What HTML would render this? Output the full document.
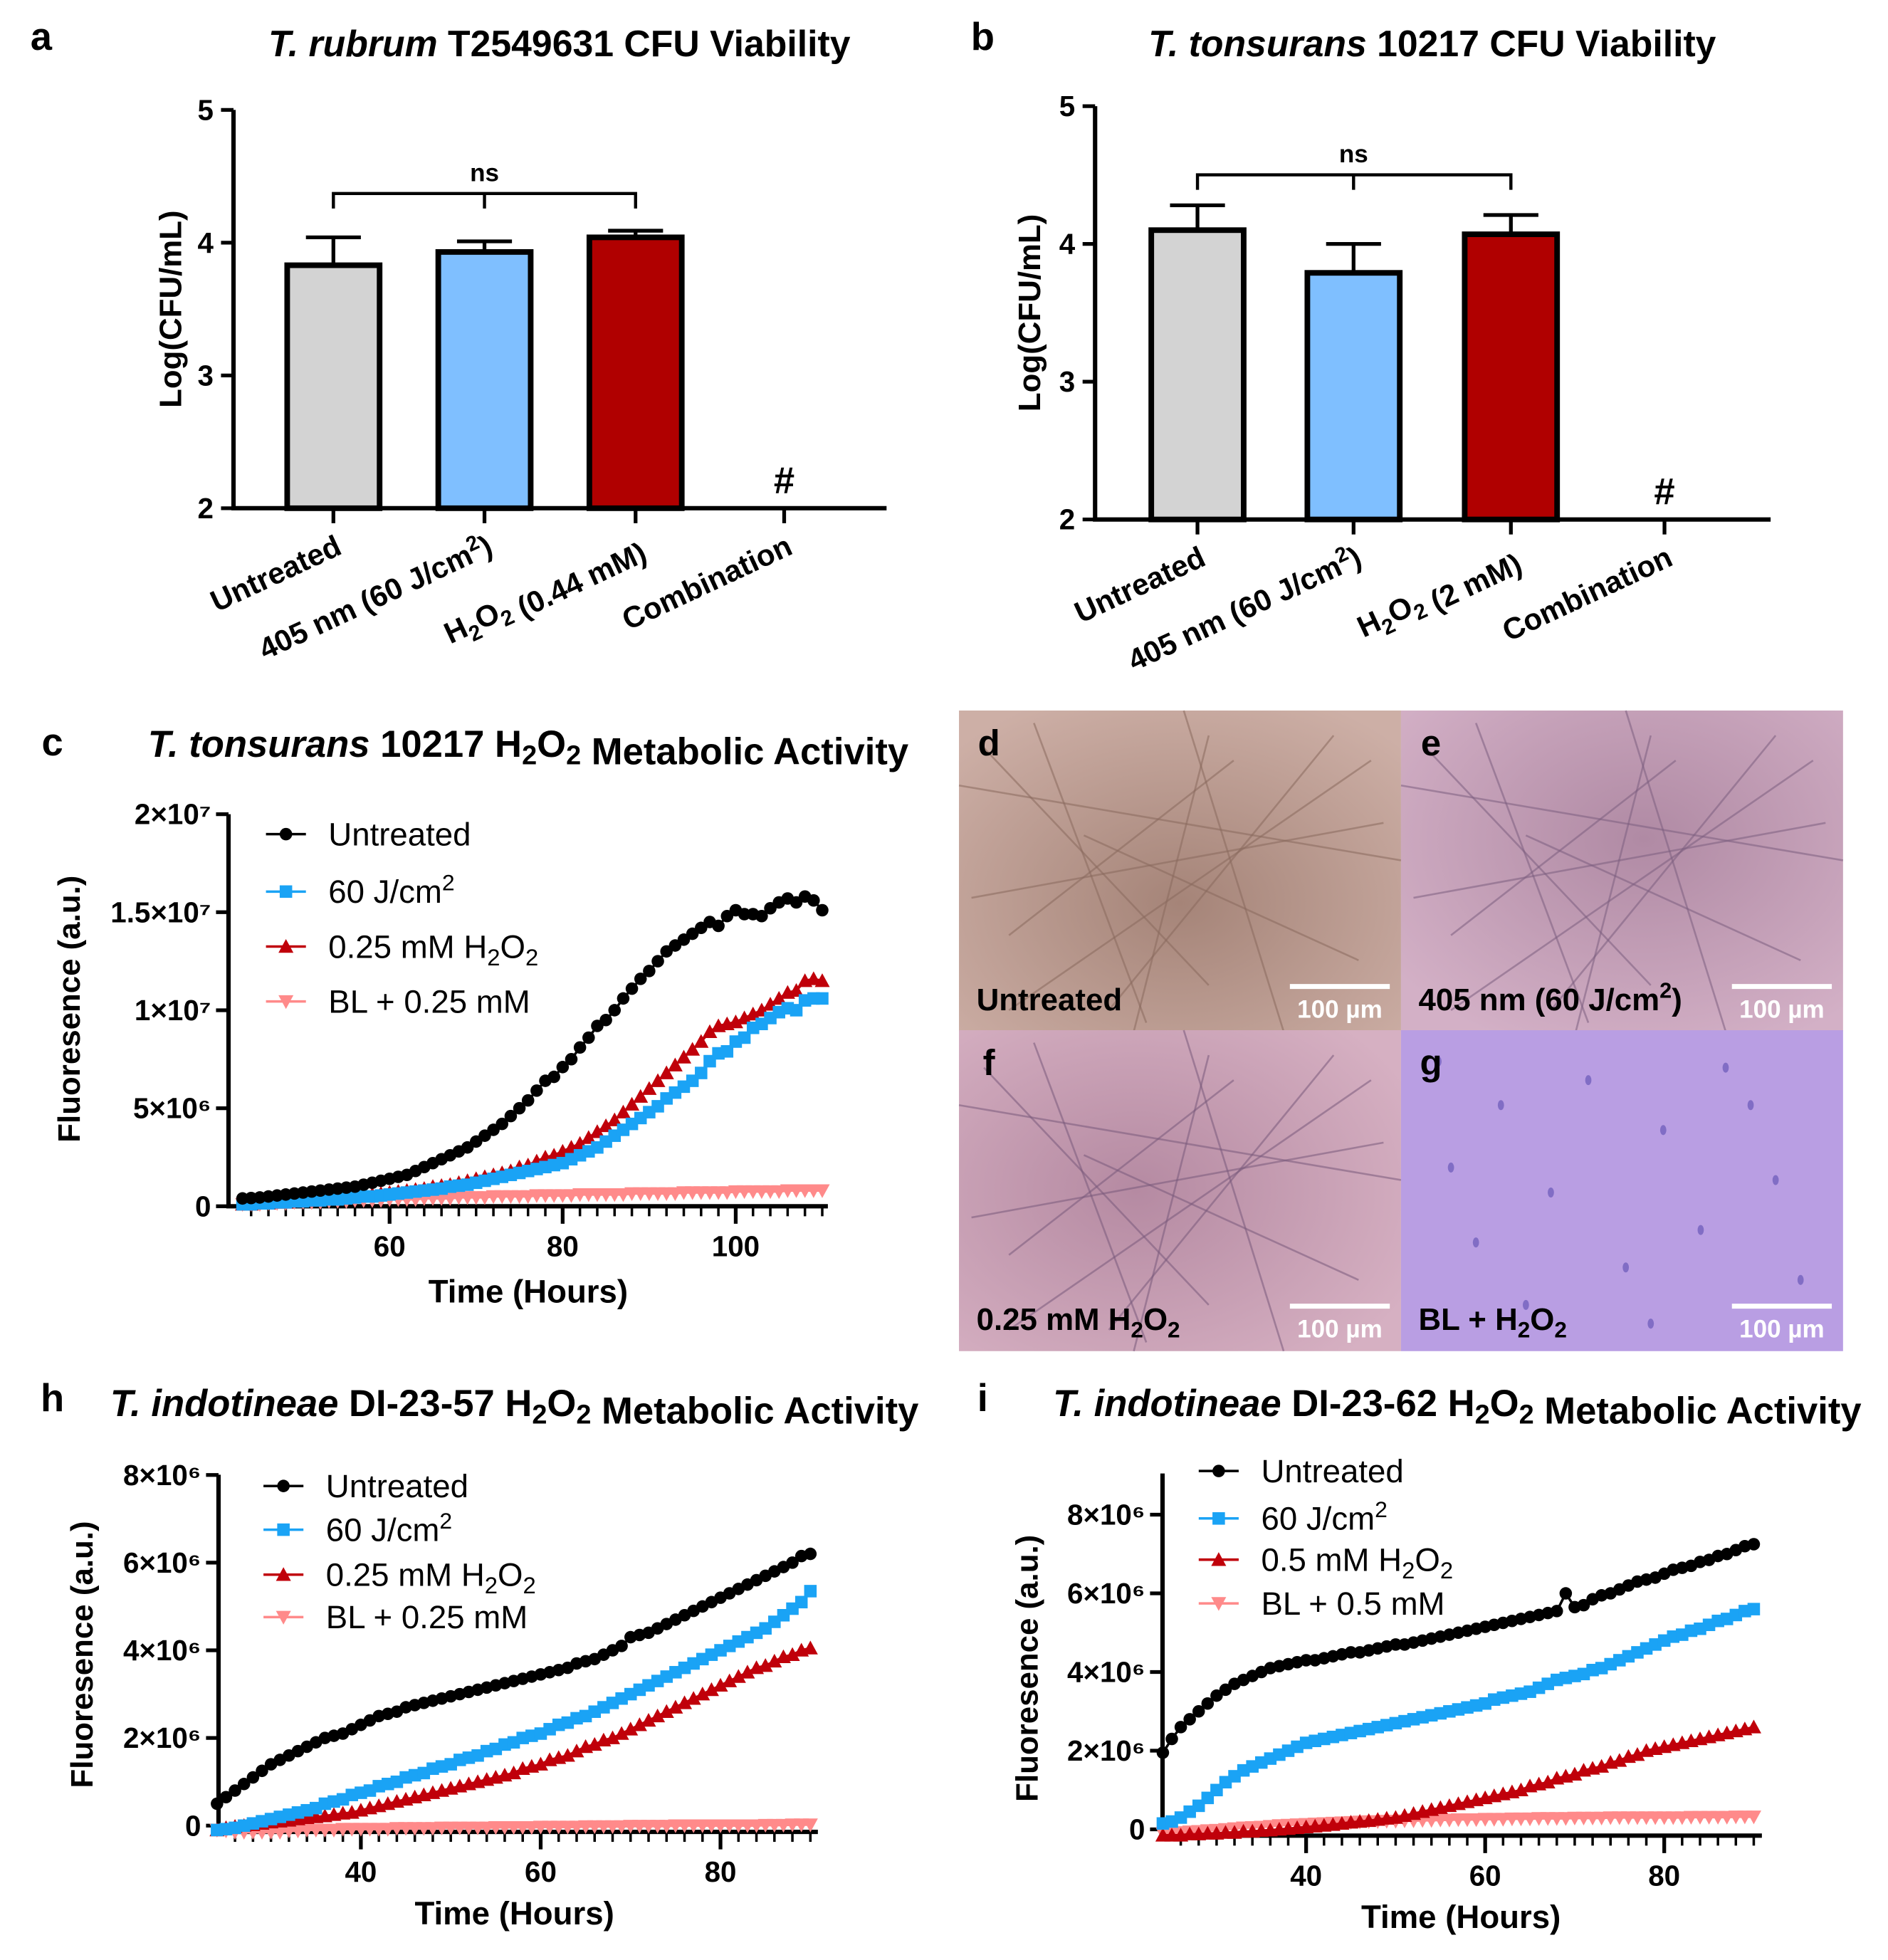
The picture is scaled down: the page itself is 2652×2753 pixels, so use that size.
<!DOCTYPE html>
<html><head><meta charset="utf-8"><style>
html,body{margin:0;padding:0;background:#fff}
svg{display:block}
text{font-family:"Liberation Sans",Arial,sans-serif}
.b{font-weight:bold}
</style></head><body>
<svg id="fig" width="2652" height="2753" viewBox="0 0 1512 1569.6" preserveAspectRatio="none" xmlns="http://www.w3.org/2000/svg">
<defs>
<radialGradient id="gd" cx="50%" cy="60%" r="70%"><stop offset="0" stop-color="#a58478"/><stop offset="1" stop-color="#cdafa6"/></radialGradient>
<radialGradient id="ge" cx="55%" cy="40%" r="70%"><stop offset="0" stop-color="#b08aa4"/><stop offset="1" stop-color="#d3b0c6"/></radialGradient>
<radialGradient id="gf" cx="40%" cy="50%" r="70%"><stop offset="0" stop-color="#b58aa2"/><stop offset="1" stop-color="#d6b0c2"/></radialGradient>
</defs>
</svg>
<script>
// ---------- data ----------
const barCatsA = ["Untreated","405 nm (60 J/cm²)","H₂O₂ (0.44 mM)","Combination"];
const barValsA = [3.83, 3.93, 4.04, null];
const barErrA  = [0.21, 0.08, 0.05, null];
const barCatsB = ["Untreated","405 nm (60 J/cm²)","H₂O₂ (2 mM)","Combination"];
const barValsB = [4.10, 3.79, 4.07, null];
const barErrB  = [0.18, 0.21, 0.14, null];
const barTicks = [2,3,4,5];

const hoursC = [43,44,45,46,47,48,49,50,51,52,53,54,55,56,57,58,59,60,61,62,63,64,65,66,67,68,69,70,71,72,73,74,75,76,77,78,79,80,81,82,83,84,85,86,87,88,89,90,91,92,93,94,95,96,97,98,99,100,101,102,103,104,105,106,107,108,109,110];
const cUntreated = [0.4,0.42,0.45,0.5,0.55,0.6,0.65,0.7, 0.75,0.8,0.85,0.9,0.95,1.0,1.1,1.2,1.3,1.4, 1.5,1.6,1.8,2.0,2.2,2.4,2.6,2.8,3.0,3.3, 3.6,3.9,4.2,4.6,5.0,5.4,5.9,6.4,6.6,7.1, 7.5,8.1,8.6,9.2,9.5,10.0,10.6,11.1,11.6,12.0, 12.5,13.0,13.3,13.6,13.9,14.2,14.5,14.3,14.8,15.1, 14.9,14.9,14.8,15.2,15.5,15.7,15.5,15.8,15.6,15.1];
const c60J = [0.1,0.1,0.15,0.15,0.2,0.2,0.25,0.25, 0.3,0.3,0.35,0.35,0.4,0.45,0.5,0.5,0.55,0.6, 0.65,0.7,0.75,0.8,0.85,0.9,1.0,1.05,1.1,1.2, 1.3,1.4,1.5,1.6,1.7,1.8,1.9,2.0,2.1,2.2, 2.4,2.6,2.8,3.0,3.3,3.6,3.9,4.2,4.5,4.8, 5.1,5.5,5.8,6.1,6.4,6.8,7.4,7.8,7.9,8.4, 8.6,9.1,9.3,9.6,9.9,10.1,10.0,10.5,10.6,10.6];
const cH2O2 = [0.1,0.1,0.15,0.15,0.2,0.2,0.25,0.3, 0.3,0.35,0.4,0.4,0.45,0.5,0.55,0.6,0.65,0.7, 0.75,0.8,0.85,0.9,1.0,1.05,1.1,1.2,1.3,1.4, 1.5,1.6,1.7,1.8,2.0,2.1,2.3,2.5,2.6,2.8, 3.0,3.2,3.5,3.8,4.1,4.4,4.8,5.2,5.6,6.0, 6.4,6.8,7.2,7.6,8.0,8.4,8.9,9.2,9.3,9.4, 9.6,9.8,10.0,10.3,10.6,10.9,11.0,11.5,11.6,11.5];
const cBL = [0.1,0.1,0.1,0.15,0.15,0.15,0.2,0.2, 0.2,0.2,0.25,0.25,0.25,0.3,0.3,0.3,0.3,0.35, 0.35,0.35,0.35,0.4,0.4,0.4,0.4,0.45,0.45,0.45, 0.45,0.5,0.5,0.5,0.5,0.5,0.55,0.55,0.55,0.55, 0.55,0.6,0.6,0.6,0.6,0.6,0.6,0.65,0.65,0.65, 0.65,0.65,0.65,0.7,0.7,0.7,0.7,0.7,0.7,0.75, 0.75,0.75,0.75,0.75,0.75,0.8,0.8,0.8,0.8,0.8];
const cYTicks = [0,5,10,15,20];
const cYLabels = ["0","5×10⁶","1×10⁷","1.5×10⁷","2×10⁷"];
const cXTicks = [60,80,100];

const hoursHI = [24,25,26,27,28,29,30,31,32,33,34,35,36,37,38,39,40,41,42,43,44,45,46,47,48,49,50,51,52,53,54,55,56,57,58,59,60,61,62,63,64,65,66,67,68,69,70,71,72,73,74,75,76,77,78,79,80,81,82,83,84,85,86,87,88,89,90];
const hUntreated = [0.5,0.65,0.8,0.95,1.1,1.25,1.4, 1.5,1.6,1.7,1.8,1.9,2.0,2.05,2.1,2.2,2.3, 2.4,2.5,2.55,2.6,2.7,2.75,2.8,2.85,2.9,2.95, 3.0,3.05,3.1,3.15,3.2,3.25,3.3,3.35,3.4,3.45, 3.5,3.55,3.6,3.7,3.75,3.8,3.9,4.0,4.1,4.3, 4.35,4.4,4.5,4.6,4.7,4.8,4.9,5.0,5.1,5.2, 5.3,5.4,5.5,5.6,5.7,5.8,5.9,6.0,6.15,6.2];
const h60J = [-0.1,-0.08,-0.05,0,0.05,0.1,0.15, 0.2,0.25,0.3,0.35,0.4,0.5,0.55,0.6,0.7,0.75, 0.8,0.9,0.95,1.0,1.1,1.15,1.2,1.3,1.35,1.4, 1.5,1.55,1.6,1.7,1.75,1.85,1.9,2.0,2.05,2.1, 2.2,2.3,2.35,2.45,2.5,2.6,2.7,2.8,2.9,3.0, 3.1,3.2,3.3,3.4,3.5,3.6,3.7,3.8,3.9,4.0, 4.1,4.2,4.3,4.4,4.5,4.65,4.8,4.95,5.1,5.35];
const hH2O2 = [-0.1,-0.05,-0.02,0,0.02,0.05,0.08, 0.1,0.12,0.15,0.18,0.2,0.22,0.25,0.28,0.3,0.35, 0.4,0.45,0.5,0.55,0.6,0.65,0.7,0.75,0.8,0.85, 0.9,0.95,1.0,1.05,1.1,1.15,1.2,1.3,1.35,1.4, 1.5,1.55,1.6,1.7,1.8,1.85,1.95,2.0,2.1,2.2, 2.3,2.4,2.5,2.6,2.7,2.8,2.9,3.0,3.1,3.2, 3.3,3.4,3.5,3.6,3.65,3.75,3.85,3.9,4.0,4.05];
const hBL = [-0.1,-0.12,-0.15,-0.15,-0.15,-0.15,-0.15, -0.15,-0.12,-0.12,-0.1,-0.1,-0.1,-0.1,-0.08,-0.08,-0.08, -0.08,-0.08,-0.08,-0.06,-0.06,-0.06,-0.06,-0.06,-0.05,-0.05, -0.05,-0.05,-0.05,-0.05,-0.04,-0.04,-0.04,-0.04,-0.04,-0.03, -0.03,-0.03,-0.03,-0.03,-0.02,-0.02,-0.02,-0.02,-0.02,-0.01, -0.01,-0.01,-0.01,-0.01,0,0,0,0,0,0, 0,0,0,0,0.01,0.01,0.01,0.02,0.02,0.02];
const iUntreated = [1.95,2.3,2.6,2.8,3.0,3.2,3.4, 3.55,3.7,3.8,3.9,4.0,4.1,4.15,4.2,4.25,4.3, 4.3,4.35,4.4,4.45,4.5,4.5,4.55,4.6,4.65,4.7, 4.7,4.75,4.8,4.85,4.9,4.95,5.0,5.05,5.1,5.15, 5.2,5.25,5.3,5.35,5.4,5.45,5.5,5.55,6.0,5.65, 5.7,5.85,5.95,6.0,6.1,6.2,6.3,6.35,6.4,6.5, 6.6,6.65,6.7,6.8,6.85,6.95,7.0,7.1,7.2,7.25];
const i60J = [0.15,0.2,0.3,0.45,0.6,0.8,1.0, 1.2,1.35,1.5,1.6,1.7,1.8,1.9,2.0,2.1,2.2, 2.25,2.3,2.35,2.4,2.45,2.5,2.55,2.6,2.65,2.7, 2.75,2.8,2.85,2.9,2.95,3.0,3.05,3.1,3.15,3.2, 3.3,3.35,3.4,3.45,3.5,3.6,3.7,3.8,3.85,3.9, 3.95,4.05,4.1,4.2,4.3,4.4,4.5,4.6,4.7,4.8, 4.9,4.95,5.05,5.1,5.2,5.3,5.35,5.45,5.55,5.6];
const iH2O2 = [-0.15,-0.15,-0.15,-0.12,-0.12,-0.1,-0.1, -0.08,-0.08,-0.05,-0.05,-0.03,-0.02,0,0.02,0.04,0.06, 0.08,0.1,0.12,0.15,0.18,0.2,0.22,0.25,0.28,0.3, 0.35,0.4,0.45,0.5,0.55,0.6,0.65,0.7,0.75,0.8, 0.85,0.9,0.95,1.0,1.1,1.15,1.2,1.3,1.35,1.4, 1.5,1.55,1.6,1.7,1.75,1.85,1.9,2.0,2.05,2.1, 2.15,2.2,2.25,2.3,2.35,2.4,2.45,2.5,2.55,2.6];
const iBL = [-0.1,-0.1,-0.08,-0.06,-0.05,-0.03,-0.02, 0,0.02,0.04,0.05,0.06,0.08,0.1,0.11,0.12,0.13, 0.14,0.15,0.16,0.17,0.18,0.19,0.2,0.2,0.21,0.21, 0.22,0.22,0.23,0.23,0.24,0.24,0.25,0.25,0.25,0.26, 0.26,0.26,0.27,0.27,0.27,0.28,0.28,0.28,0.28,0.29, 0.29,0.29,0.29,0.3,0.3,0.3,0.3,0.3,0.3,0.3, 0.3,0.3,0.31,0.31,0.31,0.31,0.31,0.32,0.32,0.32];
const hiYTicks = [0,2,4,6,8];
const hiYLabels = ["0","2×10⁶","4×10⁶","6×10⁶","8×10⁶"];
const hiXTicks = [40,60,80];

// ---------- helpers ----------
const NS="http://www.w3.org/2000/svg";
const svg=document.getElementById('fig');
function el(tag,attrs,parent){const e=document.createElementNS(NS,tag);for(const k in attrs)e.setAttribute(k,attrs[k]);(parent||svg).appendChild(e);return e;}
function txt(s,x,y,size,opts,parent){opts=opts||{};const t=el('text',{x:x,y:y,'font-size':size,'text-anchor':opts.anchor||'middle','font-weight':opts.bold?'bold':'normal',fill:opts.fill||'#000'},parent);if(opts.rot)t.setAttribute('transform','rotate('+opts.rot+' '+x+' '+y+')');
 if(opts.html){t.innerHTML=opts.html;}else t.textContent=s;return t;}
const SUB='<tspan dy="6" font-size="0.72em">2</tspan><tspan dy="-6">';
function h2o2(){return 'H'+SUB+'O</tspan>'+SUB+'</tspan>';}

// ---------- bar charts ----------
function barChart(cfg){
 const g=el('g',{});
 
 
 const y=v=>cfg.y0-(v-2)*(cfg.y0-cfg.y5)/3;
 const ax=el('path',{d:`M${cfg.ax} ${cfg.y5} V${cfg.y0} H${cfg.axEnd}`,stroke:'#000','stroke-width':3.5,fill:'none'},g);
 
 
 barTicks.forEach(t=>{
  el('line',{x1:cfg.ax-10,x2:cfg.ax,y1:y(t),y2:y(t),stroke:'#000','stroke-width':3},g);
  const l=txt(String(t),cfg.ax-16,y(t)+8,23,{anchor:'end',bold:true},g);
  
  
 });
 const colors=['#d3d3d3','#7fbfff','#b00000'];
 cfg.cats.forEach((c,i)=>{
  const cx=cfg.cx[i];
  el('line',{x1:cx,x2:cx,y1:cfg.y0,y2:cfg.y0+12,stroke:'#000','stroke-width':3},g);
  if(cfg.vals[i]!=null){
   const top=y(cfg.vals[i]);
   const et=y(cfg.vals[i]+cfg.errs[i]);
   const e=el('path',{d:`M${cx} ${top} V${et} M${cx-22} ${et} H${cx+22}`,stroke:'#000','stroke-width':3,fill:'none'},g);
   
   
   const r=el('rect',{x:cx-37,y:top,width:74,height:cfg.y0-top,fill:colors[i],stroke:'#000','stroke-width':4.5},g);
   
   
  } else {
   const h=txt('#',cx,cfg.y0-12,30,{bold:true},g);
   
   
  }
  const lx=cx+8, ly=cfg.y0+36;
  const l=txt('',lx,ly,24,{anchor:'end',bold:true,rot:-25,html:cfg.labelHtml[i]},g);
  
  
 });
 const br=el('path',{d:`M${cfg.cx[0]} ${cfg.nsY+12} V${cfg.nsY} H${cfg.cx[2]} V${cfg.nsY+12} M${cfg.cx[1]} ${cfg.nsY} V${cfg.nsY+12}`,stroke:'#000','stroke-width':2.5,fill:'none'},g);
 
 
 const ns=txt('ns',cfg.cx[1],cfg.nsY-10,20,{bold:true},g);
 
 
 const yt=txt('Log(CFU/mL)',cfg.ytX,(cfg.y0+cfg.y5)/2,25,{bold:true,rot:-90},g);
 
 
}
barChart({name:'panel-a-chart',ax:187,axEnd:710,y0:407,y5:88,cx:[267,388,509,628],vals:barValsA,errs:barErrA,cats:barCatsA,nsY:155,ytX:145,
 labelHtml:['Untreated','405 nm (60 J/cm<tspan dy="-9" font-size="0.7em">2</tspan><tspan dy="9">)</tspan>',h2o2()+' (0.44 mM)','Combination']});
barChart({name:'panel-b-chart',ax:877,axEnd:1418,y0:416,y5:85,cx:[959,1084,1210,1333],vals:barValsB,errs:barErrB,cats:barCatsB,nsY:140,ytX:833,
 labelHtml:['Untreated','405 nm (60 J/cm<tspan dy="-9" font-size="0.7em">2</tspan><tspan dy="9">)</tspan>',h2o2()+' (2 mM)','Combination']});

// ---------- line charts ----------
function marker(type,x,y,color,g){
 let m;
 if(type==='circle') m=el('circle',{cx:x,cy:y,r:5,fill:color},g);
 else if(type==='square') m=el('rect',{x:x-5,y:y-5,width:10,height:10,fill:color},g);
 else if(type==='up') m=el('polygon',{points:`${x},${y-6} ${x-6},${y+5} ${x+6},${y+5}`,fill:color},g);
 else m=el('polygon',{points:`${x},${y+6} ${x-6},${y-5} ${x+6},${y-5}`,fill:color},g);
 return m;
}
function lineChart(cfg){
 const g=el('g',{});
 
 
 const X=h=>cfg.xA+(h-cfg.hA)*cfg.pxH;
 const Y=v=>cfg.y0-v*cfg.pxV;
 const ax=el('path',{d:`M${cfg.axX} ${cfg.yTop} V${cfg.axY} H${cfg.axEnd}`,stroke:'#000','stroke-width':3.5,fill:'none'},g);
 
 
 cfg.yTicks.forEach((t,i)=>{
  el('line',{x1:cfg.axX-10,x2:cfg.axX,y1:Y(t),y2:Y(t),stroke:'#000','stroke-width':3},g);
  const l=txt(cfg.yLabels[i],cfg.axX-14,Y(t)+8,23,{anchor:'end',bold:true},g);
  
  
 });
 for(let h=cfg.minorStart;h<=cfg.minorEnd;h+=2){
  el('line',{x1:X(h),x2:X(h),y1:cfg.axY,y2:cfg.axY+8,stroke:'#000','stroke-width':2},g);
 }
 cfg.xTicks.forEach(t=>{
  el('line',{x1:X(t),x2:X(t),y1:cfg.axY,y2:cfg.axY+14,stroke:'#000','stroke-width':3},g);
  const l=txt(String(t),X(t),cfg.axY+40,23,{bold:true},g);
  
  
 });
 const order=[3,2,1,0];
 order.forEach(si=>{
  const s=cfg.series[si];
  const sg=el('g',{},g);
  
  
  const d=cfg.hours.map((h,i)=>(i?'L':'M')+X(h).toFixed(1)+' '+Y(s.vals[i]).toFixed(1)).join(' ');
  el('path',{d:d,stroke:s.color,'stroke-width':2,fill:'none'},sg);
  cfg.hours.forEach((h,i)=>{const m=marker(s.m,X(h),Y(s.vals[i]),s.color,sg);
   
   });
 });
 cfg.series.forEach((s,i)=>{
  const ly=cfg.legY[i];
  const lg=el('g',{},g);
  
  
  el('line',{x1:cfg.legX,x2:cfg.legX+32,y1:ly,y2:ly,stroke:s.color,'stroke-width':2},lg);
  marker(s.m,cfg.legX+16,ly,s.color,lg);
  txt('',cfg.legX+50,ly+9,26,{anchor:'start',html:s.label},lg);
 });
 const yt=txt('Fluoresence (a.u.)',cfg.ytX,cfg.ytY,25,{bold:true,rot:-90},g);
 
 
 const xt=txt('Time (Hours)',cfg.xtX,cfg.xtY,26,{bold:true},g);
 
 
}
const black='#000',blue='#1aa3f5',red='#c0000a',pink='#ff8a8a';
const sq='60 J/cm<tspan dy="-10" font-size="0.7em">2</tspan>';
lineChart({name:'panel-c-chart',hours:hoursC,xA:312,hA:60,pxH:6.93,y0:966,pxV:15.7,axX:183,axY:966,yTop:652,axEnd:663,
 yTicks:cYTicks,yLabels:cYLabels,xTicks:cXTicks,minorStart:44,minorEnd:110,
 series:[{key:'untreated',vals:cUntreated,color:black,m:'circle',label:'Untreated'},
  {key:'60j',vals:c60J,color:blue,m:'square',label:sq},
  {key:'h2o2',vals:cH2O2,color:red,m:'up',label:'0.25 mM '+h2o2()},
  {key:'bl-h2o2',vals:cBL,color:pink,m:'down',label:'BL + 0.25 mM'}],
 legX:213,legY:[668,714,758,802],ytX:64,ytY:808,xtX:423,xtY:1043});
lineChart({name:'panel-h-chart',hours:hoursHI,xA:289,hA:40,pxH:7.2,y0:1462,pxV:35.1,axX:175,axY:1467,yTop:1181,axEnd:655,
 yTicks:hiYTicks,yLabels:hiYLabels,xTicks:hiXTicks,minorStart:26,minorEnd:90,
 series:[{key:'untreated',vals:hUntreated,color:black,m:'circle',label:'Untreated'},
  {key:'60j',vals:h60J,color:blue,m:'square',label:sq},
  {key:'h2o2',vals:hH2O2,color:red,m:'up',label:'0.25 mM '+h2o2()},
  {key:'bl-h2o2',vals:hBL,color:pink,m:'down',label:'BL + 0.25 mM'}],
 legX:211,legY:[1190,1225,1261,1295],ytX:74,ytY:1325,xtX:412,xtY:1541});
lineChart({name:'panel-i-chart',hours:hoursHI,xA:1046,hA:40,pxH:7.17,y0:1465,pxV:31.5,axX:931,axY:1470,yTop:1180,axEnd:1411,
 yTicks:hiYTicks,yLabels:hiYLabels,xTicks:hiXTicks,minorStart:26,minorEnd:90,
 series:[{key:'untreated',vals:iUntreated,color:black,m:'circle',label:'Untreated'},
  {key:'60j',vals:i60J,color:blue,m:'square',label:sq},
  {key:'h2o2',vals:iH2O2,color:red,m:'up',label:'0.5 mM '+h2o2()},
  {key:'bl-h2o2',vals:iBL,color:pink,m:'down',label:'BL + 0.5 mM'}],
 legX:960,legY:[1178,1216,1249,1284],ytX:831,ytY:1336,xtX:1170,xtY:1544});

// ---------- titles & panel letters ----------
function title(html,x,y,name,size){const t=txt('',x,y,size||29.5,{bold:true,html:html});
 
 }
title('<tspan font-style="italic">T. rubrum</tspan> T2549631 CFU Viability',448,45,'panel-a-title',29.5);
title('<tspan font-style="italic">T. tonsurans</tspan> 10217 CFU Viability',1147,45,'panel-b-title',29.5);
title('<tspan font-style="italic">T. tonsurans</tspan> 10217 '+h2o2()+' Metabolic Activity',423,606,'panel-c-title',30);
title('<tspan font-style="italic">T. indotineae</tspan> DI-23-57 '+h2o2()+' Metabolic Activity',412,1134,'panel-h-title',30);
title('<tspan font-style="italic">T. indotineae</tspan> DI-23-62 '+h2o2()+' Metabolic Activity',1167,1134,'panel-i-title',30);
[['a',33,40],['b',787,40],['c',42,605],['h',42,1130],['i',787,1130]].forEach(p=>{
 const t=txt(p[0],p[1],p[2],31,{bold:true});
 
 
});

// ---------- micrographs ----------
const mic=[
 {k:'d',x:768,y:569,fill:'url(#gd)',line:'#8a6a5e',label:'Untreated'},
 {k:'e',x:1122,y:569,fill:'url(#ge)',line:'#7d5f80',label:'405 nm (60 J/cm<tspan dy="-10" font-size="0.7em">2</tspan><tspan dy="10">)</tspan>'},
 {k:'f',x:768,y:825,fill:'url(#gf)',line:'#7a5a7c',label:'0.25 mM '+h2o2()},
 {k:'g',x:1122,y:825,fill:'#b99ee3',line:null,label:'BL + '+h2o2()}];
mic.forEach((m,mi)=>{
 const g=el('g',{});
 
 
 el('rect',{x:m.x,y:m.y,width:354,height:257,fill:m.fill},g);
 if(m.line){
  const segs=[[20,30,200,220],[60,10,150,250],[300,20,120,240],[10,150,340,90],[180,0,260,257],[40,240,330,40],[100,100,320,200],[220,40,40,180],[0,60,354,120],[140,257,200,20]];
  segs.forEach(s=>el('line',{x1:m.x+s[0],y1:m.y+s[1],x2:m.x+s[2],y2:m.y+s[3],stroke:m.line,'stroke-width':1.5,opacity:0.55},g));
 } else {
  const dots=[[30,25],[80,60],[150,40],[210,80],[260,30],[300,120],[120,130],[60,170],[180,190],[240,160],[320,200],[100,220],[200,235],[280,60],[40,110]];
  dots.forEach(d=>el('ellipse',{cx:m.x+d[0],cy:m.y+d[1],rx:2.5,ry:4,fill:'#6a58b8',opacity:0.7},g));
 }
 txt(m.k,m.x+24,m.y+36,29,{bold:true},g);
 txt('',m.x+14,m.y+240,25,{anchor:'start',bold:true,html:m.label},g);
 el('line',{x1:m.x+265,x2:m.x+345,y1:m.y+221,y2:m.y+221,stroke:'#fff','stroke-width':4},g);
 txt('100 µm',m.x+305,m.y+246,20,{bold:true,fill:'#fff'},g);
});
</script>
</body></html>
